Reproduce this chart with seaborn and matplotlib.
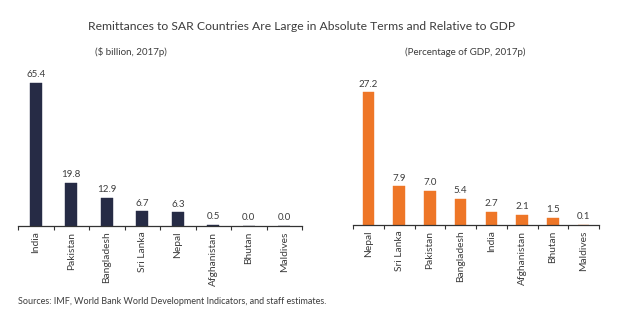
import matplotlib
matplotlib.use("Agg")
import matplotlib.pyplot as plt
import seaborn as sns
import pandas as pd
import numpy as np

# Remittance inflows, 2017 (preliminary)
abs_countries = ["India", "Pakistan", "Bangladesh", "Sri Lanka", "Nepal",
                 "Afghanistan", "Bhutan", "Maldives"]
abs_values = [65.4, 19.8, 12.9, 6.7, 6.3, 0.5, 0.0, 0.0]

gdp_countries = ["Nepal", "Sri Lanka", "Pakistan", "Bangladesh", "India",
                 "Afghanistan", "Bhutan", "Maldives"]
gdp_values = [27.2, 7.9, 7.0, 5.4, 2.7, 2.1, 1.5, 0.1]

title = "Remittances to SAR Countries Are Large in Absolute Terms and Relative to GDP"
left_sub = "($ billion, 2017p)"
right_sub = "(Percentage of GDP, 2017p)"
source = "Sources: IMF, World Bank World Development Indicators, and staff estimates."

navy = "#262b45"
orange = "#ee7627"
text_col = "#3c3c3c"

sns.set_theme(style="white")
plt.rcParams["font.family"] = ["Lato", "DejaVu Sans"]

W, H = 620, 327
fig = plt.figure(figsize=(W / 100, H / 100), dpi=100)


def px_axes(x0, x1, y_bottom, height):
    return fig.add_axes([x0 / W, (H - y_bottom) / H, (x1 - x0) / W, height / H])


def draw_panel(ax, cats, vals, color, width):
    df = pd.DataFrame({"country": cats, "value": vals})
    sns.barplot(data=df, x="country", y="value", color=color, width=width,
                saturation=1, ax=ax)
    for patch in ax.patches:
        patch.set_edgecolor(color)
        patch.set_linewidth(0.3)
    for i, v in enumerate(vals):
        ax.text(i, v + max(vals) * 0.025, f"{v:.1f}", ha="center", va="bottom",
                fontsize=7, color=text_col)
    ax.set_xlim(-0.5, len(cats) - 0.5)
    ax.set_ylim(0, max(vals) * 1.09)
    ax.set_xlabel("")
    ax.set_ylabel("")
    ax.set_yticks([])
    for s in ["top", "right", "left"]:
        ax.spines[s].set_visible(False)
    ax.spines["bottom"].set_color("#333333")
    ax.spines["bottom"].set_linewidth(0.9)
    ax.set_xticks(range(len(cats)))
    ax.set_xticklabels(cats, rotation=90, fontsize=7.4, color=text_col)
    ax.tick_params(axis="x", which="major", length=0, pad=4)
    ax.set_xticks(np.arange(-0.5, len(cats), 1.0), minor=True)
    ax.tick_params(axis="x", which="minor", length=3, width=0.8,
                   color="#333333", direction="out", bottom=True)


ax1 = px_axes(18, 302, 226, 156)
draw_panel(ax1, abs_countries, abs_values, navy, 0.34)

ax2 = px_axes(353, 599, 225, 145)
draw_panel(ax2, gdp_countries, gdp_values, orange, 0.38)

fig.text(302 / W, 1 - 27 / H, title, ha="center", va="center", fontsize=8.7,
         color=text_col)
fig.text(131 / W, 1 - 52 / H, left_sub, ha="center", va="center", fontsize=7,
         color=text_col)
fig.text(465 / W, 1 - 52 / H, right_sub, ha="center", va="center", fontsize=7,
         color=text_col)
fig.text(18 / W, 1 - 301 / H, source, ha="left", va="center", fontsize=6.5,
         color=text_col)

fig.savefig("out.png", dpi=100, facecolor="white")
